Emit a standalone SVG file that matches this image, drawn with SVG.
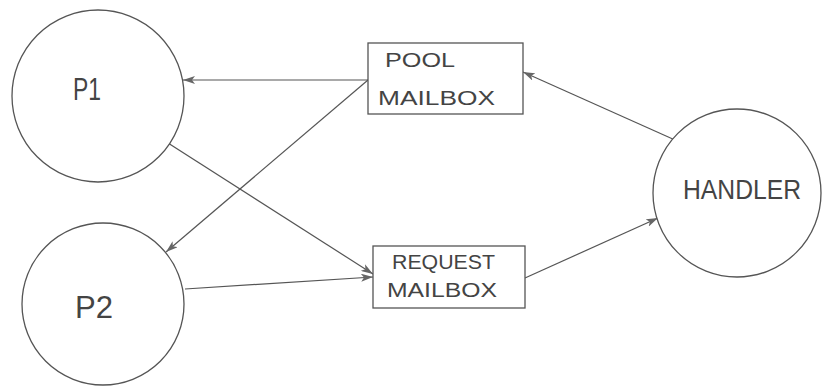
<svg xmlns="http://www.w3.org/2000/svg" width="822" height="386" viewBox="0 0 822 386">
<style>
.node{fill:#fff;stroke:#555;stroke-width:1.3}
.lbl{font-family:"Liberation Sans",Arial,sans-serif;fill:#444;font-weight:normal}
.big{font-size:32px}
.med{font-size:28px}
.sm{font-size:20px}
.edge{stroke:#555;stroke-width:1.2;fill:none;marker-end:url(#ah)}
</style>
<defs>
<marker id="ah" viewBox="0 0 12 8" refX="12" refY="4" markerWidth="12" markerHeight="8" markerUnits="userSpaceOnUse" orient="auto">
<path d="M0,0 L12,4 L0,8 L3,4 Z" fill="#666"/>
</marker>
</defs>
<rect width="822" height="386" fill="#fff"/>
<g id="connectors">
<line class="edge" x1="368" y1="80" x2="183" y2="80"/>
<line class="edge" x1="368" y1="80" x2="166" y2="252"/>
<line class="edge" x1="168" y1="143" x2="373" y2="274"/>
<line class="edge" x1="185" y1="289" x2="373" y2="277"/>
<line class="edge" x1="525" y1="278" x2="658" y2="218"/>
<line class="edge" x1="675" y1="140" x2="523" y2="72"/>
</g>
<g id="p1">
<circle class="node" cx="98" cy="96" r="86"/>
<text class="lbl big" x="73" y="100" textLength="28" lengthAdjust="spacingAndGlyphs">P1</text>
</g>
<g id="p2">
<circle class="node" cx="103" cy="304" r="81"/>
<text class="lbl big" x="75" y="318" textLength="38" lengthAdjust="spacingAndGlyphs">P2</text>
</g>
<g id="handler">
<circle class="node" cx="737" cy="193" r="84"/>
<text class="lbl med" x="683" y="199" textLength="118" lengthAdjust="spacingAndGlyphs">HANDLER</text>
</g>
<g id="pool">
<rect class="node" x="368" y="43" width="155" height="71"/>
<text class="lbl sm" x="385" y="67" textLength="70" lengthAdjust="spacingAndGlyphs">POOL</text>
<text class="lbl sm" x="378" y="105" textLength="117" lengthAdjust="spacingAndGlyphs">MAILBOX</text>
</g>
<g id="request">
<rect class="node" x="373" y="246" width="152" height="62"/>
<text class="lbl sm" x="392" y="269" textLength="103" lengthAdjust="spacingAndGlyphs">REQUEST</text>
<text class="lbl sm" x="387" y="297" textLength="110" lengthAdjust="spacingAndGlyphs">MAILBOX</text>
</g>
</svg>
